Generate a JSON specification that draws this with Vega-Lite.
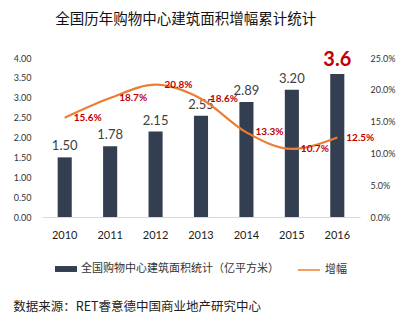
{
  "$schema": "https://vega.github.io/schema/vega-lite/v6.json",
  "padding": {"left": 13, "top": 12, "right": 5, "bottom": 5},
  "config": {
    "view": {"stroke": null},
    "font": "Noto Sans CJK SC",
    "legend": {
      "orient": "bottom",
      "direction": "horizontal",
      "labelFont": "Noto Sans CJK SC",
      "labelFontSize": 11,
      "labelColor": "#333333",
      "labelLimit": 0,
      "layout": {"bottom": {"anchor": "middle", "direction": "horizontal", "margin": 18}}
    }
  },
  "title": {
    "text": "数据来源：RET睿意德中国商业地产研究中心",
    "orient": "bottom",
    "anchor": "start",
    "frame": "bounds",
    "fontSize": 12.5,
    "fontWeight": "normal",
    "color": "#222222",
    "offset": 26
  },
  "data": {
    "values": [
      {"year": "2010", "area": 1.50, "growth": 0.156},
      {"year": "2011", "area": 1.78, "growth": 0.187},
      {"year": "2012", "area": 2.15, "growth": 0.208},
      {"year": "2013", "area": 2.55, "growth": 0.186},
      {"year": "2014", "area": 2.89, "growth": 0.133},
      {"year": "2015", "area": 3.20, "growth": 0.107},
      {"year": "2016", "area": 3.60, "growth": 0.125}
    ]
  },
  "vconcat": [
    {
      "title": {
        "text": "全国历年购物中心建筑面积增幅累计统计",
        "anchor": "start",
        "frame": "bounds",
        "dx": 42,
        "fontSize": 14.5,
        "fontWeight": "normal",
        "color": "#111111",
        "offset": 22
      },
      "width": 318,
      "height": 159,
      "encoding": {
        "x": {
          "field": "year",
          "type": "nominal",
          "scale": {"paddingInner": 0.69},
          "axis": {
            "title": null,
            "labelAngle": 0,
            "ticks": false,
            "domainColor": "#d9d9d9",
            "labelFont": "Lato",
            "labelFontSize": 11,
            "labelColor": "#222222",
            "labelPadding": 12
          }
        }
      },
      "layer": [
        {
          "encoding": {
            "y": {
              "field": "area",
              "type": "quantitative",
              "scale": {"domain": [0, 4]},
              "axis": {
                "orient": "left",
                "title": null,
                "values": [0, 0.5, 1, 1.5, 2, 2.5, 3, 3.5, 4],
                "format": ".2f",
                "grid": false,
                "domain": false,
                "ticks": false,
                "labelFont": "Lato",
                "labelFontSize": 9,
                "labelColor": "#333333",
                "labelPadding": 11
              }
            }
          },
          "layer": [
            {
              "mark": {"type": "bar"},
              "encoding": {
                "fill": {
                  "datum": "全国购物中心建筑面积统计（亿平方米）",
                  "scale": {"range": ["#333F50"]},
                  "legend": {
                    "title": null,
                    "symbolType": "M-1,-0.27H1V0.27H-1Z",
                    "symbolSize": 484,
                    "symbolStrokeWidth": 0
                  }
                }
              }
            },
            {
              "transform": [{"filter": "datum.year != '2016'"}],
              "mark": {"type": "text", "baseline": "bottom", "dy": -4, "font": "Lato", "fontSize": 13, "color": "#404040"},
              "encoding": {"text": {"field": "area", "type": "quantitative", "format": ".2f"}}
            },
            {
              "transform": [{"filter": "datum.year == '2016'"}],
              "mark": {"type": "text", "baseline": "bottom", "dy": -4, "font": "Lato", "fontSize": 20, "fontWeight": "bold", "color": "#C00000"},
              "encoding": {"text": {"field": "area", "type": "quantitative", "format": ".1f"}}
            }
          ]
        },
        {
          "encoding": {
            "y": {
              "field": "growth",
              "type": "quantitative",
              "scale": {"domain": [0, 0.25]},
              "axis": {
                "orient": "right",
                "title": null,
                "values": [0, 0.05, 0.1, 0.15, 0.2, 0.25],
                "format": ".1%",
                "grid": false,
                "domain": false,
                "ticks": false,
                "labelFont": "Lato",
                "labelFontSize": 9,
                "labelColor": "#333333",
                "labelPadding": 10
              }
            }
          },
          "layer": [
            {
              "mark": {"type": "line", "interpolate": "monotone", "strokeWidth": 2.2},
              "encoding": {
                "stroke": {
                  "datum": "增幅",
                  "scale": {"range": ["#ED7D31"]},
                  "legend": {
                    "title": null,
                    "symbolType": "stroke",
                    "symbolSize": 484,
                    "symbolStrokeWidth": 1.5
                  }
                }
              }
            },
            {
              "mark": {"type": "text", "align": "left", "baseline": "middle", "dx": 9, "font": "Lato", "fontSize": 10, "fontWeight": "bold", "color": "#C00000"},
              "encoding": {"text": {"field": "growth", "type": "quantitative", "format": ".1%"}}
            }
          ]
        }
      ],
      "resolve": {"scale": {"y": "independent"}}
    }
  ]
}
